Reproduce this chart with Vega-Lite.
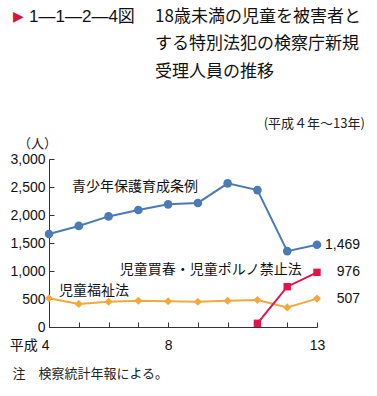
{
  "$schema": "https://vega.github.io/schema/vega-lite/v6.json",
  "width": 268,
  "height": 168,
  "autosize": {"type": "none"},
  "padding": {"left": 49, "top": 159, "right": 60, "bottom": 69},
  "background": "white",
  "config": {
    "view": {"stroke": null},
    "font": "Noto Sans CJK JP",
    "text": {"font": "Noto Sans CJK JP"},
    "axisX": {
      "tickCount": 10,
      "labelExpr": "datum.value == 4 ? '平成 4' : (datum.value == 8 || datum.value == 13) ? datum.label : ''",
      "labelAlign": {"expr": "datum.value == 4 ? 'right' : 'center'"},
      "labelFont": "Liberation Sans, Noto Sans CJK JP",
      "labelFontSize": 14,
      "labelColor": "#111",
      "labelPadding": 16,
      "labelBaseline": "top",
      "labelOverlap": false,
      "labelFlush": false,
      "tickSize": -5,
      "tickColor": "#333",
      "domainColor": "#333",
      "grid": false,
      "titleFont": "Noto Sans CJK JP",
      "titleFontSize": 13,
      "titleFontWeight": "normal",
      "titleColor": "#222",
      "titleAnchor": null,
      "titleAlign": "left",
      "titleBaseline": "middle",
      "titleX": -37,
      "titleY": 46
    },
    "axisY": {
      "tickCount": 6,
      "format": ",d",
      "labelFont": "Liberation Sans",
      "labelFontSize": 14,
      "labelColor": "#111",
      "labelPadding": 9,
      "labelOverlap": false,
      "labelFlush": false,
      "tickSize": -5,
      "tickColor": "#333",
      "domainColor": "#333",
      "grid": false,
      "titleFont": "Noto Sans CJK JP",
      "titleFontSize": 13,
      "titleFontWeight": "normal",
      "titleColor": "#222",
      "titleAngle": 0,
      "titleAnchor": null,
      "titleAlign": "center",
      "titleBaseline": "middle",
      "titleX": -12,
      "titleY": -16
    }
  },
  "datasets": {
    "series": [
      {"year": 4, "series": "青少年保護育成条例", "value": 1660},
      {"year": 5, "series": "青少年保護育成条例", "value": 1805},
      {"year": 6, "series": "青少年保護育成条例", "value": 1975},
      {"year": 7, "series": "青少年保護育成条例", "value": 2090},
      {"year": 8, "series": "青少年保護育成条例", "value": 2190},
      {"year": 9, "series": "青少年保護育成条例", "value": 2215},
      {"year": 10, "series": "青少年保護育成条例", "value": 2565},
      {"year": 11, "series": "青少年保護育成条例", "value": 2445},
      {"year": 12, "series": "青少年保護育成条例", "value": 1355},
      {"year": 13, "series": "青少年保護育成条例", "value": 1469},
      {"year": 4, "series": "児童福祉法", "value": 512},
      {"year": 5, "series": "児童福祉法", "value": 410},
      {"year": 6, "series": "児童福祉法", "value": 452},
      {"year": 7, "series": "児童福祉法", "value": 470},
      {"year": 8, "series": "児童福祉法", "value": 460},
      {"year": 9, "series": "児童福祉法", "value": 452},
      {"year": 10, "series": "児童福祉法", "value": 470},
      {"year": 11, "series": "児童福祉法", "value": 482},
      {"year": 12, "series": "児童福祉法", "value": 350},
      {"year": 13, "series": "児童福祉法", "value": 507},
      {"year": 11, "series": "児童買春・児童ポルノ禁止法", "value": 66},
      {"year": 12, "series": "児童買春・児童ポルノ禁止法", "value": 720},
      {"year": 13, "series": "児童買春・児童ポルノ禁止法", "value": 976}
    ],
    "one": [{"k": 1}]
  },
  "layer": [
    {
      "data": {"name": "series"},
      "mark": {"type": "line", "strokeWidth": 2},
      "encoding": {
        "x": {
          "field": "year",
          "type": "quantitative",
          "scale": {"domain": [4, 13], "nice": false, "zero": false},
          "title": "注　検察統計年報による。"
        },
        "y": {
          "field": "value",
          "type": "quantitative",
          "scale": {"domain": [0, 3000], "nice": false},
          "title": "（人）"
        },
        "color": {
          "field": "series",
          "type": "nominal",
          "scale": {
            "domain": ["青少年保護育成条例", "児童福祉法", "児童買春・児童ポルノ禁止法"],
            "range": ["#4a7bb7", "#f2a93b", "#e2124b"]
          },
          "legend": null
        }
      }
    },
    {
      "data": {"name": "series"},
      "mark": {"type": "point", "filled": true, "opacity": 1},
      "encoding": {
        "x": {"field": "year", "type": "quantitative", "title": "注　検察統計年報による。"},
        "y": {"field": "value", "type": "quantitative", "title": "（人）"},
        "color": {"field": "series", "type": "nominal", "legend": null},
        "shape": {
          "field": "series",
          "type": "nominal",
          "scale": {
            "domain": ["青少年保護育成条例", "児童福祉法", "児童買春・児童ポルノ禁止法"],
            "range": ["circle", "diamond", "square"]
          },
          "legend": null
        },
        "size": {
          "field": "series",
          "type": "nominal",
          "scale": {
            "domain": ["青少年保護育成条例", "児童福祉法", "児童買春・児童ポルノ禁止法"],
            "range": [75, 55, 50]
          },
          "legend": null
        }
      }
    },
    {
      "data": {"name": "series"},
      "transform": [{"filter": "datum.year == 13"}],
      "mark": {"type": "text", "align": "right", "baseline": "middle", "dx": 43, "fontSize": 14, "font": "Liberation Sans", "color": "#111"},
      "encoding": {
        "x": {"field": "year", "type": "quantitative", "title": "注　検察統計年報による。"},
        "y": {"field": "value", "type": "quantitative", "title": "（人）"},
        "text": {"field": "value", "type": "quantitative", "format": ",d"}
      }
    },
    {
      "data": {"name": "one"},
      "mark": {"type": "text", "align": "left", "baseline": "middle", "fontSize": 14, "color": "#111", "text": "青少年保護育成条例"},
      "encoding": {
        "x": {"datum": 4.77, "title": "注　検察統計年報による。"},
        "y": {"datum": 2500, "title": "（人）"}
      }
    },
    {
      "data": {"name": "one"},
      "mark": {"type": "text", "align": "left", "baseline": "middle", "fontSize": 14, "color": "#111", "text": "児童買春・児童ポルノ禁止法"},
      "encoding": {
        "x": {"datum": 6.38, "title": "注　検察統計年報による。"},
        "y": {"datum": 1018, "title": "（人）"}
      }
    },
    {
      "data": {"name": "one"},
      "mark": {"type": "text", "align": "left", "baseline": "middle", "fontSize": 14, "color": "#111", "text": "児童福祉法"},
      "encoding": {
        "x": {"datum": 4.34, "title": "注　検察統計年報による。"},
        "y": {"datum": 634, "title": "（人）"}
      }
    },
    {
      "data": {"name": "one"},
      "mark": {"type": "text", "align": "left", "baseline": "middle", "fontSize": 14, "font": "DejaVu Sans", "color": "#d4143c", "text": "▶"},
      "encoding": {
        "x": {"datum": 2.79, "title": "注　検察統計年報による。"},
        "y": {"datum": 5536, "title": "（人）"}
      }
    },
    {
      "data": {"name": "one"},
      "mark": {"type": "text", "align": "left", "baseline": "middle", "fontSize": 17, "font": "Liberation Sans, Noto Sans CJK JP", "color": "#111", "text": "1—1—2—4図"},
      "encoding": {
        "x": {"datum": 3.33, "title": "注　検察統計年報による。"},
        "y": {"datum": 5536, "title": "（人）"}
      }
    },
    {
      "data": {"name": "one"},
      "mark": {"type": "text", "align": "left", "baseline": "middle", "fontSize": 17, "lineHeight": 27.5, "color": "#111", "text": ["18歳未満の児童を被害者と", "する特別法犯の検察庁新規", "受理人員の推移"]},
      "encoding": {
        "x": {"datum": 7.56, "title": "注　検察統計年報による。"},
        "y": {"datum": 5536, "title": "（人）"}
      }
    },
    {
      "data": {"name": "one"},
      "mark": {"type": "text", "align": "right", "baseline": "middle", "fontSize": 13, "color": "#222", "text": "(平成４年～13年)"},
      "encoding": {
        "x": {"datum": 14.61, "title": "注　検察統計年報による。"},
        "y": {"datum": 3625, "title": "（人）"}
      }
    }
  ]
}
